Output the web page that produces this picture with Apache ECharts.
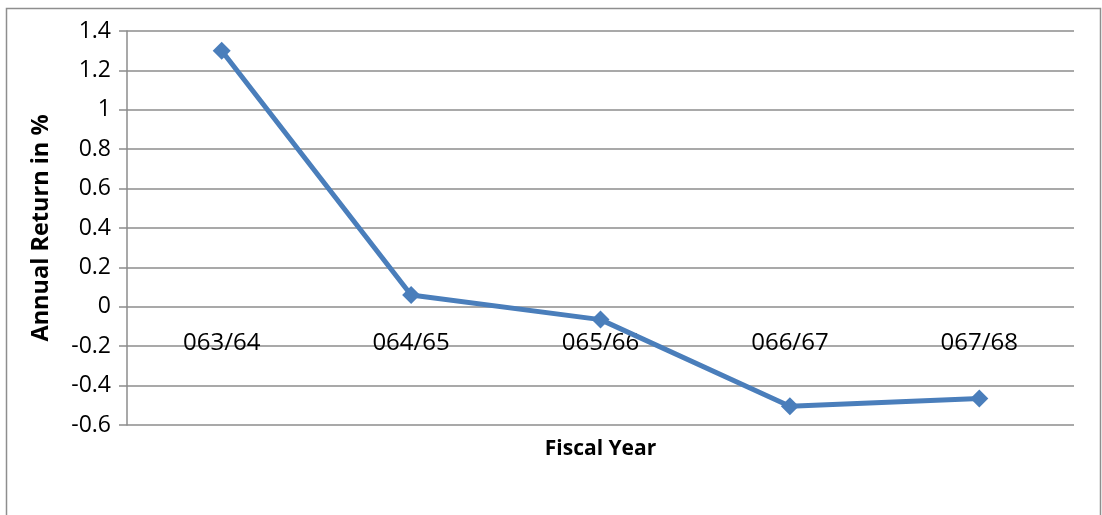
<!DOCTYPE html>
<html>
<head>
<meta charset="utf-8">
<script src="https://cdn.jsdelivr.net/npm/echarts@6/dist/echarts.min.js"></script>
<style>
  html, body { margin: 0; padding: 0; background: #fff; }
  #chart { width: 1102px; height: 515px; }
</style>
</head>
<body>
<div id="chart"></div>
<script>
// Fiscal years and the annual return for each
const fiscalYears = ['063/64', '064/65', '065/66', '066/67', '067/68'];
const annualReturn = [1.30, 0.06, -0.065, -0.505, -0.465];

const FONT = 'Open Sans';
const GRID_COLOR = '#8c8c8c';
const PLOT_BOTTOM = 90;

const chart = echarts.init(document.getElementById('chart'));
chart.setOption({
  animation: false,
  backgroundColor: '#ffffff',
  graphic: [{
    type: 'rect',
    shape: { x: 6.5, y: 8.5, width: 1094, height: 520 },
    style: { fill: 'none', stroke: '#8e8e8e', lineWidth: 1.5 },
    silent: true
  }],
  grid: {
    left: 127, right: 28, top: 31, bottom: PLOT_BOTTOM,
    containLabel: false, outerBoundsMode: 'none'
  },
  xAxis: [{
    // bottom axis carries only the title, below the plot
    type: 'category',
    data: fiscalYears,
    axisLine: { show: false },
    axisTick: { show: false },
    axisLabel: { show: false },
    name: 'Fiscal Year',
    nameLocation: 'middle',
    nameGap: 14,
    nameTextStyle: { color: '#000', fontFamily: FONT, fontSize: 21, fontWeight: 'bold' }
  }, {
    // category labels sit just under the zero line
    type: 'category',
    data: fiscalYears,
    position: 'bottom',
    offset: 0,
    axisLine: { show: false, onZero: false },
    axisTick: { show: false },
    axisLabel: { color: '#000', fontFamily: FONT, fontSize: 24, margin: 24 }
  }],
  yAxis: {
    type: 'value',
    min: -0.6,
    max: 1.4,
    interval: 0.2,
    axisLine: { show: true, lineStyle: { color: GRID_COLOR, width: 1.5 } },
    axisTick: { show: true, length: 8, lineStyle: { color: GRID_COLOR, width: 1.5 } },
    splitLine: { show: true, lineStyle: { color: GRID_COLOR, width: 1.5 } },
    axisLabel: {
      color: '#000', fontFamily: FONT, fontSize: 23, margin: 16,
      formatter: v => String(Math.round(v * 10) / 10)
    },
    name: 'Annual Return in %',
    nameLocation: 'middle',
    nameGap: 74,
    nameRotate: 90,
    nameTextStyle: { color: '#000', fontFamily: FONT, fontSize: 23.5, fontWeight: 'bold' }
  },
  series: [{
    type: 'line',
    data: annualReturn,
    symbol: 'diamond',
    symbolSize: 18,
    lineStyle: { color: '#4a7ebb', width: 5 },
    itemStyle: { color: '#4a7ebb' },
    z: 3
  }]
});

// Lift the label axis from the plot bottom up to the zero line
const zeroY = chart.convertToPixel({ yAxisIndex: 0 }, 0);
const bottomY = chart.getHeight() - PLOT_BOTTOM;
chart.setOption({ xAxis: [{}, { offset: zeroY - bottomY }] });
</script>
</body>
</html>
